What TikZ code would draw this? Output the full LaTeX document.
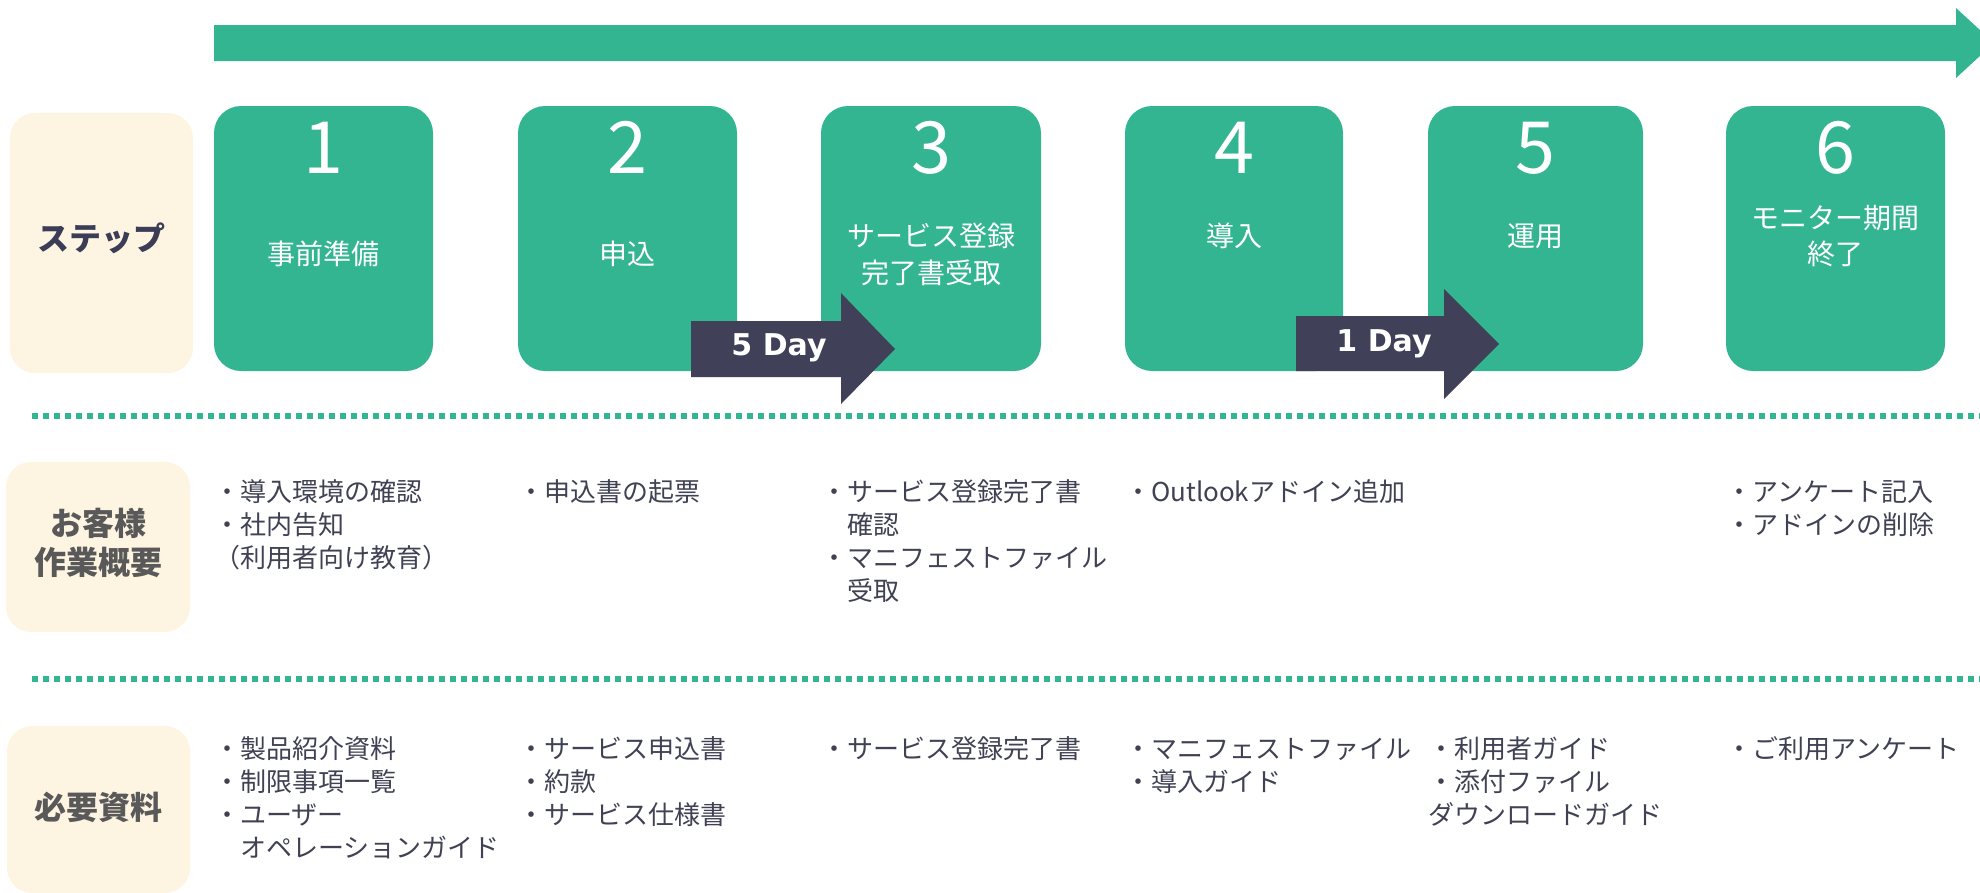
\documentclass[tikz,border=0pt]{standalone}
\usepackage{fontspec}
\setmainfont{Noto Sans CJK JP}
\newfontfamily\dejavu{DejaVu Sans}
\definecolor{grn}{RGB}{51,181,146}
\definecolor{navy}{RGB}{64,65,89}
\definecolor{beige}{RGB}{254,244,226}
\definecolor{txt}{RGB}{64,66,84}
\definecolor{lbl}{RGB}{89,89,89}
\definecolor{steplbl}{RGB}{59,60,85}
\newcommand\txtlines[4]{%
  \foreach \t [count=\i] in {#4} {\node[bul] (#1-\i) at (#2, #3+33*\i-33) {\t};}%
}
\begin{document}
\begin{tikzpicture}[x=1pt,y=-1pt,
  stepbox/.style={fill=grn, rounded corners=27pt, minimum height=265pt, inner sep=0pt},
  lblbox/.style={fill=beige, rounded corners=25pt, inner sep=0pt},
  digit/.style={text=white, font=\fontsize{72}{72}\selectfont, anchor=base, inner sep=0pt},
  stxt/.style={text=white, font=\fontsize{28}{28}\selectfont, anchor=base, inner sep=0pt},
  bul/.style={text=txt, font=\fontsize{26}{26}\selectfont, anchor=base west, inner sep=0pt},
  rowlbl/.style={text=lbl, font=\bfseries\fontsize{32}{32}\selectfont, anchor=base, inner sep=0pt},
  daytxt/.style={text=white, font=\dejavu\bfseries\fontsize{30}{30}\selectfont, anchor=base, inner sep=0pt},
  dotline/.style={grn, line width=5.5pt, dash pattern=on 5.5pt off 5.5pt}]
\useasboundingbox (0,0) rectangle (1980,892);
\clip (0,0) rectangle (1980,892);

% top timeline arrow
\fill[grn] (214,25) -- (1956,25) -- (1956,8) -- (1994,43) -- (1956,78) -- (1956,61) -- (214,61) -- cycle;

% row label boxes
\node[lblbox, minimum width=183pt, minimum height=260pt] (L1) at (101.5,243) {};
\node[lblbox, minimum width=184pt, minimum height=170pt] (L2) at (98,547) {};
\node[lblbox, minimum width=183pt, minimum height=167pt] (L3) at (98.5,809.5) {};
\node[rowlbl, text=steplbl] (t1) at (101,250) {ステップ};
\node[rowlbl] (t2a) at (98,535) {お客様};
\node[rowlbl] (t2b) at (98,574) {作業概要};
\node[rowlbl] (t3) at (98,819) {必要資料};

% step boxes
\node[stepbox, minimum width=219pt] (s1) at (323.5,238.5) {};
\node[stepbox, minimum width=219pt] (s2) at (627.5,238.5) {};
\node[stepbox, minimum width=220pt] (s3) at (931,238.5) {};
\node[stepbox, minimum width=218pt] (s4) at (1234,238.5) {};
\node[stepbox, minimum width=215pt] (s5) at (1535.5,238.5) {};
\node[stepbox, minimum width=219pt] (s6) at (1835.5,238.5) {};

\node[digit] (n1) at (323.5,173.5) {1};
\node[digit] (n2) at (627.5,173.5) {2};
\node[digit] (n3) at (931,173.5) {3};
\node[digit] (n4) at (1234,173.5) {4};
\node[digit] (n5) at (1535.5,173.5) {5};
\node[digit] (n6) at (1835.5,173.5) {6};

\node[stxt] (a1) at (323.5,264) {事前準備};
\node[stxt] (a2) at (627.5,264) {申込};
\node[stxt] (a3a) at (931,246) {サービス登録};
\node[stxt] (a3b) at (931,283) {完了書受取};
\node[stxt] (a4) at (1234,246) {導入};
\node[stxt] (a5) at (1535.5,246) {運用};
\node[stxt] (a6a) at (1835.5,228) {モニター期間};
\node[stxt] (a6b) at (1835.5,264) {終了};

% duration arrows
\fill[navy] (691,321) -- (841,321) -- (841,293) -- (895,349) -- (841,404) -- (841,377) -- (691,377) -- cycle;
\node[daytxt] (d5) at (779,355) {5 Day};
\fill[navy] (1296,316) -- (1444,316) -- (1444,289) -- (1499,344) -- (1444,399) -- (1444,371) -- (1296,371) -- cycle;
\node[daytxt] (d1) at (1384,351) {1 Day};

% dotted separators
\draw[dotline] (32,416) -- (1980,416);
\draw[dotline] (32,679) -- (1980,679);

% customer tasks
\txtlines{c1}{214}{501}{・導入環境の確認,・社内告知,（利用者向け教育）}
\txtlines{c2}{518}{501}{・申込書の起票}
\txtlines{c3}{821}{501}{・サービス登録完了書,　確認,・マニフェストファイル,　受取}
\txtlines{c4}{1125}{501}{・Outlookアドイン追加}
\txtlines{c6}{1726}{501}{・アンケート記入,・アドインの削除}

% required documents
\txtlines{m1}{214}{758}{・製品紹介資料,・制限事項一覧,・ユーザー,　オペレーションガイド}
\txtlines{m2}{518}{758}{・サービス申込書,・約款,・サービス仕様書}
\txtlines{m3}{821}{758}{・サービス登録完了書}
\txtlines{m4}{1125}{758}{・マニフェストファイル,・導入ガイド}
\txtlines{m5}{1428}{758}{・利用者ガイド,・添付ファイル,ダウンロードガイド}
\txtlines{m6}{1726}{758}{・ご利用アンケート}
\end{tikzpicture}
\end{document}
